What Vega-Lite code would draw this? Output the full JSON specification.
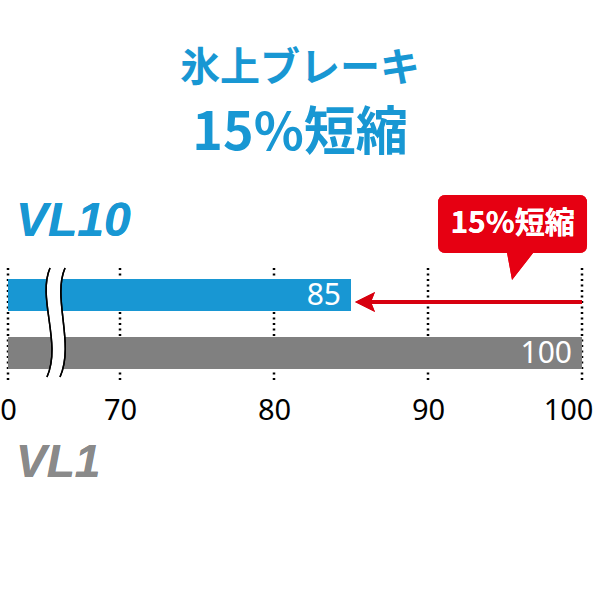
{
  "$schema": "https://vega.github.io/schema/vega-lite/v6.json",
  "autosize": "none",
  "width": 574,
  "height": 112,
  "padding": {"left": 8, "top": 268, "right": 18, "bottom": 220},
  "background": "white",
  "config": {"view": {"stroke": null}},
  "title": {
    "text": "氷上ブレーキ",
    "subtitle": "15%短縮",
    "font": "Noto Sans CJK JP",
    "subtitleFont": "Noto Sans CJK JP",
    "fontSize": 40,
    "subtitleFontSize": 52,
    "fontWeight": "bold",
    "subtitleFontWeight": "bold",
    "color": "#1897d3",
    "subtitleColor": "#1897d3",
    "anchor": "middle",
    "frame": "group",
    "dx": 5,
    "offset": 35,
    "subtitlePadding": 20
  },
  "datasets": {
    "bars": [
      {"model": "VL10", "value": 85},
      {"model": "VL1", "value": 100}
    ],
    "grid": [
      {"tick": 0}, {"tick": 70}, {"tick": 80}, {"tick": 90}, {"tick": 100}
    ]
  },
  "data": {"name": "bars"},
  "encoding": {
    "y": {
      "field": "model",
      "type": "nominal",
      "sort": ["VL10", "VL1"],
      "scale": {"domain": ["VL10", "VL1"], "paddingInner": 0.448, "paddingOuter": 0.19},
      "axis": null
    }
  },
  "layer": [
    {
      "data": {"name": "grid"},
      "mark": {"type": "rule", "color": "black", "strokeWidth": 2.5, "strokeDash": [2, 3.5]},
      "encoding": {
        "x": {
          "field": "tick",
          "type": "quantitative",
          "scale": {"domain": [0, 70, 100], "range": [0, 112, 574], "nice": false, "zero": false},
          "axis": {
            "values": [0, 70, 80, 90, 100],
            "title": null,
            "grid": false,
            "domain": false,
            "ticks": false,
            "tickSize": 0,
            "labelFont": "Noto Sans",
            "labelFontSize": 29,
            "labelColor": "black",
            "labelPadding": 16,
            "labelOffset": {"expr": "datum.value == 100 ? -14 : 0"},
            "labelBound": false,
            "labelFlush": false,
            "labelOverlap": false
          }
        },
        "y": null
      }
    },
    {
      "mark": {"type": "bar"},
      "encoding": {
        "x": {"field": "value", "type": "quantitative"},
        "color": {
          "field": "model",
          "type": "nominal",
          "scale": {"domain": ["VL10", "VL1"], "range": ["#1897d3", "#808080"]},
          "legend": null
        }
      }
    },
    {
      "mark": {"type": "text", "align": "right", "baseline": "middle", "dx": -10, "dy": 1, "color": "white", "font": "Noto Sans", "fontSize": 30},
      "encoding": {
        "x": {"field": "value", "type": "quantitative"},
        "text": {"field": "value", "type": "quantitative"}
      }
    },
    {
      "mark": {"type": "point", "shape": "M -0.109 -1 C -0.345 -0.455 0.109 0.364 -0.164 0.982 L 0.073 0.982 C 0.345 0.364 -0.073 -0.455 0.164 -1 Z", "size": 12100, "filled": true, "color": "white", "opacity": 1, "yOffset": 28},
      "encoding": {"x": {"datum": 30}, "y": {"datum": "VL10"}}
    },
    {
      "mark": {"type": "point", "shape": "M -0.109 -1 C -0.345 -0.455 0.109 0.364 -0.164 0.982 M 0.073 0.982 C 0.345 0.364 -0.073 -0.455 0.164 -1", "size": 12100, "filled": false, "stroke": "black", "strokeWidth": 1.5, "opacity": 1, "yOffset": 28},
      "encoding": {"x": {"datum": 30}, "y": {"datum": "VL10"}}
    },
    {
      "mark": {"type": "rule", "color": "#d7000f", "strokeWidth": 4, "yOffset": 7},
      "encoding": {"x": {"datum": 100}, "x2": {"datum": 86.2}, "y": {"datum": "VL10"}}
    },
    {
      "mark": {"type": "point", "shape": "M -1 0 L 1 -1 L 0.6 0 L 1 1 Z", "size": 400, "filled": true, "color": "#d7000f", "opacity": 1, "yOffset": 7},
      "encoding": {"x": {"datum": 85.91}, "y": {"datum": "VL10"}}
    },
    {
      "mark": {"type": "point", "shape": "M -0.89 -0.387 L 0.89 -0.387 Q 0.993 -0.387 0.993 -0.28 L 0.993 0.28 Q 0.993 0.387 0.89 0.387 L 0.273 0.387 L -0.007 0.747 L -0.073 0.387 L -0.89 0.387 Q -0.993 0.387 -0.993 0.28 L -0.993 -0.28 Q -0.993 -0.387 -0.89 -0.387 Z", "size": 22500, "filled": true, "color": "#e60012", "opacity": 1, "yOffset": -71},
      "encoding": {"x": {"datum": 95.49}, "y": {"datum": "VL10"}}
    },
    {
      "mark": {"type": "text", "align": "center", "baseline": "middle", "dy": -71, "color": "white", "font": "Noto Sans CJK JP", "fontWeight": "bold", "fontSize": 30},
      "encoding": {"x": {"datum": 95.49}, "y": {"datum": "VL10"}, "text": {"value": "15%短縮"}}
    },
    {
      "mark": {"type": "text", "align": "left", "baseline": "middle", "dx": 8, "dy": -73, "color": "#1897d3", "font": "Liberation Sans", "fontWeight": "bold", "fontStyle": "italic", "fontSize": 48},
      "encoding": {"x": {"datum": 0}, "y": {"datum": "VL10"}, "text": {"value": "VL10"}}
    },
    {
      "mark": {"type": "text", "align": "left", "baseline": "middle", "dx": 8, "dy": 110, "color": "#8a8a8a", "font": "Liberation Sans", "fontWeight": "bold", "fontStyle": "italic", "fontSize": 46},
      "encoding": {"x": {"datum": 0}, "y": {"datum": "VL1"}, "text": {"value": "VL1"}}
    }
  ]
}
